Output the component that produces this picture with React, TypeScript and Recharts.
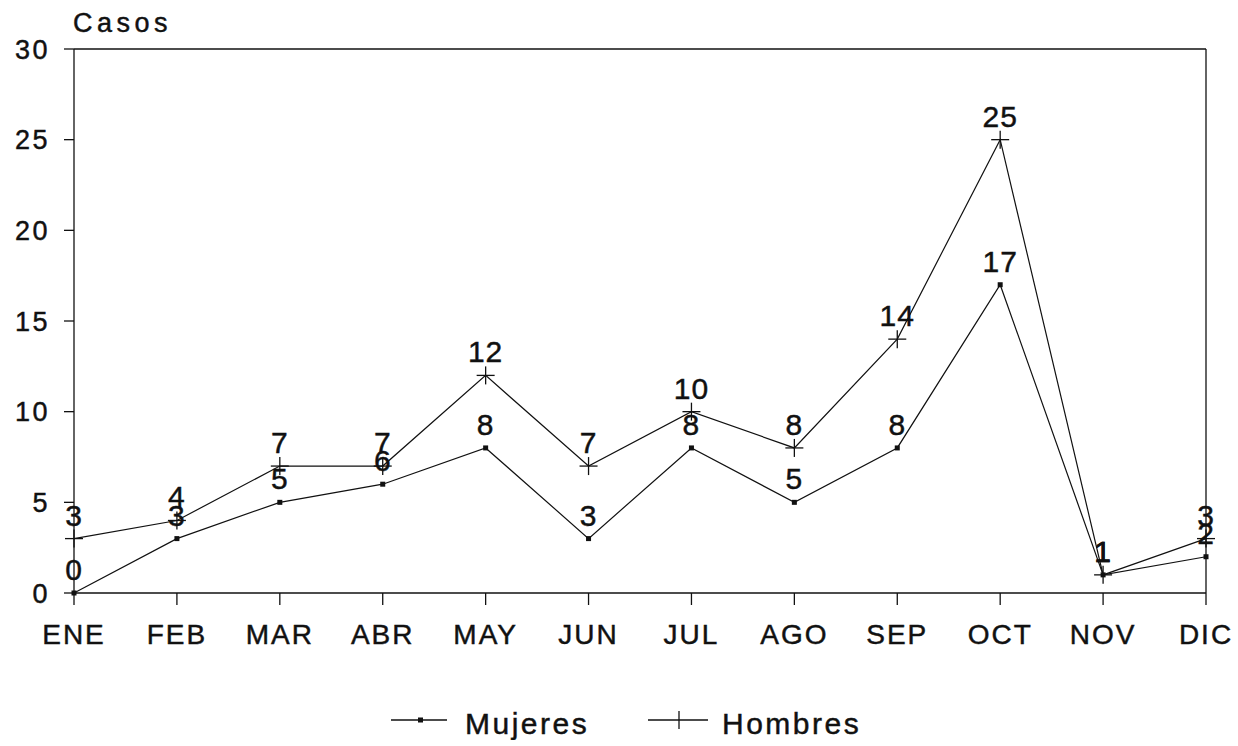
import React from "react";
import {
  LineChart,
  Line,
  XAxis,
  YAxis,
  ReferenceLine,
  LabelList,
  Legend,
} from "recharts";

const months = ["ENE", "FEB", "MAR", "ABR", "MAY", "JUN", "JUL", "AGO", "SEP", "OCT", "NOV", "DIC"];
const mujeres = [0, 3, 5, 6, 8, 3, 8, 5, 8, 17, 1, 2];
const hombres = [3, 4, 7, 7, 12, 7, 10, 8, 14, 25, 1, 3];
const yTicks = [0, 5, 10, 15, 20, 25, 30];

const data = months.map((m, i) => ({ month: m, mujeres: mujeres[i], hombres: hombres[i] }));

const FONT = "'Liberation Sans', Arial, Helvetica, sans-serif";
const INK = "#111";
const TXT_STROKE = { stroke: INK, strokeWidth: 0.45 };

const SquareDot = (props: any) => {
  const { cx, cy } = props;
  if (cx == null || cy == null) return null;
  return <rect x={cx - 2.5} y={cy - 2.5} width={5} height={5} fill={INK} />;
};

const PlusDot = (props: any) => {
  const { cx, cy } = props;
  if (cx == null || cy == null) return null;
  return (
    <g stroke={INK} strokeWidth={1.3}>
      <line x1={cx - 9} y1={cy} x2={cx + 9} y2={cy} />
      <line x1={cx} y1={cy - 9} x2={cx} y2={cy + 9} />
    </g>
  );
};

const LegendContent = () => (
  <svg width={1238} height={40} style={{ display: "block" }}>
    <g stroke={INK} strokeWidth={1.3}>
      <line x1={391} y1={20} x2={447} y2={20} />
      <line x1={648} y1={20} x2={708} y2={20} />
      <line x1={679} y1={11} x2={679} y2={29} />
    </g>
    <rect x={418} y={17.5} width={5} height={5} fill={INK} />
    <text x={465} y={34} fontFamily={FONT} fontSize={30} letterSpacing={2.5} fill={INK} {...TXT_STROKE}>
      Mujeres
    </text>
    <text x={722} y={34} fontFamily={FONT} fontSize={30} letterSpacing={2.5} fill={INK} {...TXT_STROKE}>
      Hombres
    </text>
  </svg>
);

const labelStyle = { fontFamily: FONT, fontSize: 30, fill: INK, letterSpacing: 1, ...TXT_STROKE };

export default function App() {
  return (
    <div style={{ position: "absolute", left: 0, top: 0, width: 1238, height: 746, background: "#fff" }}>
      <LineChart
        width={1238}
        height={746}
        data={data}
        margin={{ top: 49, right: 32, bottom: 53, left: 0 }}
      >
        <XAxis
          dataKey="month"
          padding={{ left: 0, right: 0 }}
          height={60}
          tickSize={12}
          tickMargin={19}
          stroke={INK}
          axisLine={{ stroke: INK, strokeWidth: 1.3 }}
          tickLine={{ stroke: INK, strokeWidth: 1.3 }}
          tick={{ fontFamily: FONT, fontSize: 28, fill: INK, letterSpacing: 2, ...TXT_STROKE }}
          interval={0}
        />
        <YAxis
          domain={[0, 30]}
          ticks={yTicks}
          width={74}
          tickSize={10}
          tickMargin={14}
          stroke={INK}
          axisLine={{ stroke: INK, strokeWidth: 1.3 }}
          tickLine={{ stroke: INK, strokeWidth: 1.3 }}
          tick={{ fontFamily: FONT, fontSize: 27, fill: INK, letterSpacing: 2.5, ...TXT_STROKE }}
          label={{
            value: "Casos",
            position: "top",
            content: () => (
              <text x={73} y={32} fontFamily={FONT} fontSize={27} letterSpacing={4.5} fill={INK} {...TXT_STROKE}>
                Casos
              </text>
            ),
          }}
        />
        <ReferenceLine y={30} stroke={INK} strokeWidth={1.3} />
        <ReferenceLine x="DIC" stroke={INK} strokeWidth={1.3} />
        <Line
          type="linear"
          dataKey="mujeres"
          stroke={INK}
          strokeWidth={1.2}
          dot={<SquareDot />}
          activeDot={false}
          isAnimationActive={false}
        >
          <LabelList dataKey="mujeres" position="top" offset={13} style={labelStyle} />
        </Line>
        <Line
          type="linear"
          dataKey="hombres"
          stroke={INK}
          strokeWidth={1.2}
          dot={<PlusDot />}
          activeDot={false}
          isAnimationActive={false}
        >
          <LabelList dataKey="hombres" position="top" offset={13} style={labelStyle} />
        </Line>
        <Legend
          verticalAlign="bottom"
          content={<LegendContent />}
          wrapperStyle={{ position: "absolute", left: 0, top: 700, width: 1238, height: 40 }}
        />
      </LineChart>
    </div>
  );
}
